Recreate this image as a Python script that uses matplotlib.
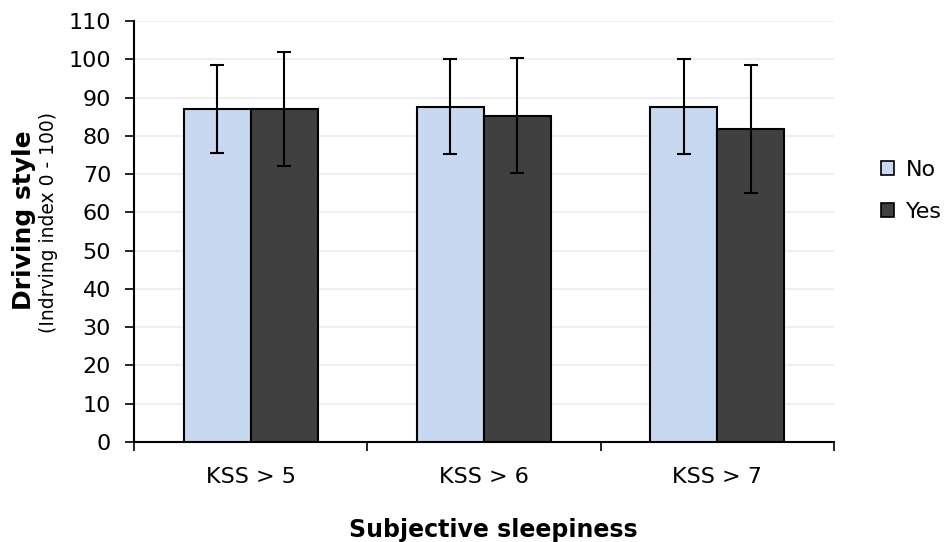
import matplotlib.pyplot as plt
import numpy as np
from matplotlib.patches import Patch

categories = ['KSS > 5', 'KSS > 6', 'KSS > 7']
series = ['No', 'Yes']
means_no = [87.0, 87.6, 87.6]
means_yes = [87.0, 85.3, 81.8]
err_no = [11.6, 12.4, 12.4]
err_yes = [15.0, 15.0, 16.8]

COLORS = ['#c6d9f0', '#404040']
GRID = '#efefef'

plt.rcParams['font.family'] = ['DejaVu Sans']

fig = plt.figure(figsize=(9.51, 5.42), dpi=100)
ax = fig.add_axes([0.1409, 0.1845, 0.7360, 0.7768])

x = np.arange(len(categories))
width = 0.287
ax.bar(x - width / 2, means_no, width, color=COLORS[0], edgecolor='black', linewidth=1.5,
       yerr=err_no, error_kw=dict(ecolor='black', elinewidth=1.5, capsize=5, capthick=1.5), zorder=3)
ax.bar(x + width / 2, means_yes, width, color=COLORS[1], edgecolor='black', linewidth=1.5,
       yerr=err_yes, error_kw=dict(ecolor='black', elinewidth=1.5, capsize=5, capthick=1.5), zorder=3)

ax.set_xlim(-0.5, 2.5)
ax.set_ylim(0, 110)
ax.set_yticks(np.arange(0, 111, 10))
ax.yaxis.grid(True, color=GRID, linewidth=1.5, zorder=0)
ax.set_axisbelow(True)

# major ticks sit on category boundaries, labels on the centres
ax.set_xticks([-0.5, 0.5, 1.5, 2.5])
ax.set_xticklabels([])
ax.set_xticks(x, minor=True)
ax.set_xticklabels(categories, minor=True)
ax.tick_params(axis='x', which='minor', length=0, pad=18, labelsize=16)
ax.tick_params(axis='x', which='major', length=6.5, width=1.2)
ax.tick_params(axis='y', length=6.5, width=1.2, labelsize=16, pad=10)

for s in ['top', 'right']:
    ax.spines[s].set_visible(False)
for s in ['left', 'bottom']:
    ax.spines[s].set_linewidth(1.5)

fig.text(0.519, 0.022, 'Subjective sleepiness', fontsize=17, fontweight='bold',
         ha='center', va='center')
fig.text(0.025, 0.594, 'Driving style', rotation=90, fontsize=18, fontweight='bold',
         ha='center', va='center')
fig.text(0.0505, 0.59, '(Indrving index 0 - 100)', rotation=90, fontsize=13.5,
         ha='center', va='center')

handles = [Patch(facecolor=c, edgecolor='black', linewidth=1.2) for c in COLORS]
fig.legend(handles, series, loc='center left', bbox_to_anchor=(0.926, 0.6476), frameon=False,
           borderpad=0, borderaxespad=0, fontsize=16, handlelength=0.62, handleheight=0.62,
           handletextpad=0.5, labelspacing=1.0)

fig.savefig('out.png', dpi=100)
